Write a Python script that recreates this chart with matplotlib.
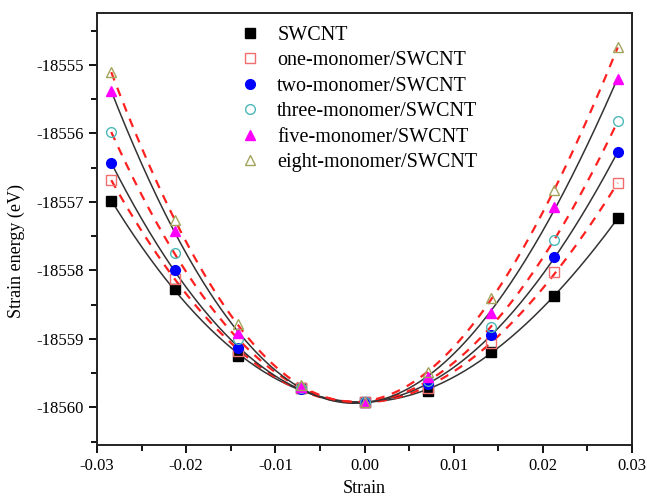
import numpy as np
import matplotlib
matplotlib.use('Agg')
import matplotlib.pyplot as plt
from matplotlib.ticker import MultipleLocator, FormatStrFormatter

plt.rcParams['font.family'] = ['Liberation Serif', 'DejaVu Serif']

# strain values (x) and strain energy (eV) for each system
strain = [-0.0284, -0.0213, -0.0142, -0.0071, 0.0, 0.0071, 0.0142, 0.0213, 0.0284]

swcnt = [-18556.98, -18558.27, -18559.25, -18559.72, -18559.92, -18559.76, -18559.19, -18558.37, -18557.24]
one_mono = [-18556.68, -18558.12, -18559.18, -18559.72, -18559.92, -18559.72, -18559.06, -18558.03, -18556.73]
two_mono = [-18556.43, -18558.00, -18559.13, -18559.73, -18559.92, -18559.66, -18558.95, -18557.81, -18556.27]
three_mono = [-18555.98, -18557.75, -18559.00, -18559.72, -18559.92, -18559.61, -18558.82, -18557.55, -18555.82]
five_mono = [-18555.38, -18557.43, -18558.92, -18559.70, -18559.92, -18559.55, -18558.62, -18557.08, -18555.20]
eight_mono = [-18555.10, -18557.27, -18558.78, -18559.68, -18559.92, -18559.49, -18558.40, -18556.83, -18554.74]

labels = ['SWCNT', 'one-monomer/SWCNT', 'two-monomer/SWCNT',
          'three-monomer/SWCNT', 'five-monomer/SWCNT', 'eight-monomer/SWCNT']


def main():
    fig = plt.figure(figsize=(6.47, 4.96), dpi=100)
    ax = fig.add_axes([97/647, 1-445/496, 535/647, 432/496])

    series = [swcnt, one_mono, two_mono, three_mono, five_mono, eight_mono]
    # marker, face colour, edge colour, size
    styles = [('s', 'black', 'black', 6.5),
              ('s', 'none', '#f26d6d', 6.5),
              ('o', 'blue', 'blue', 7),
              ('o', 'none', '#4cb8b8', 7),
              ('^', 'magenta', 'magenta', 7.5),
              ('^', 'none', '#a3a35c', 7.5)]

    x = np.array(strain)
    xs = np.linspace(x[0], x[-1], 200)
    handles = []
    for i, (y, st) in enumerate(zip(series, styles)):
        y = np.array(y)
        # fitted curve, solid grey / dashed red alternating
        p = np.polyfit(x, y + 18557, 4)
        if i % 2 == 0:
            ax.plot(xs, np.polyval(p, xs) - 18557, color='#333333', lw=1.1, zorder=2)
        else:
            ax.plot(xs, np.polyval(p, xs) - 18557, color='#ff2020', lw=1.6,
                    ls=(0, (4, 3.5)), zorder=2)
        h, = ax.plot(x, y, ls='none', marker=st[0], mfc=st[1], mec=st[2],
                     ms=st[3], mew=1.0, zorder=3, label=labels[i])
        handles.append(h)

    ax.set_xlim(-0.03, 0.03)
    ax.set_ylim(-18560.55, -18554.24)
    ax.xaxis.set_major_locator(MultipleLocator(0.01))
    ax.xaxis.set_minor_locator(MultipleLocator(0.005))
    ax.yaxis.set_major_locator(MultipleLocator(1))
    ax.yaxis.set_minor_locator(MultipleLocator(0.5))
    ax.xaxis.set_major_formatter(FormatStrFormatter('%.2f'))
    ax.yaxis.set_major_formatter(FormatStrFormatter('%d'))
    ax.tick_params(which='major', direction='out', length=6, width=1.3,
                   labelsize=12, top=False, right=False)
    ax.tick_params(which='minor', direction='out', length=4, width=1.3,
                   top=False, right=False)
    for s in ax.spines.values():
        s.set_linewidth(1.4)
        s.set_color('#222222')

    ax.set_xlabel('Strain', fontsize=13, labelpad=4)
    ax.set_ylabel('Strain energy (eV)', fontsize=13)
    ax.yaxis.set_label_coords(-0.135, 0.45)

    ax.legend(handles=handles, loc='upper left', bbox_to_anchor=(240/647, 1-25.5/496),
              bbox_transform=fig.transFigure, frameon=False, fontsize=14.5,
              handlelength=1.0, handletextpad=0.85, labelspacing=0.32,
              borderaxespad=0, borderpad=0)

    fig.savefig('out.png', dpi=100)


if __name__ == "__main__":
    main()
